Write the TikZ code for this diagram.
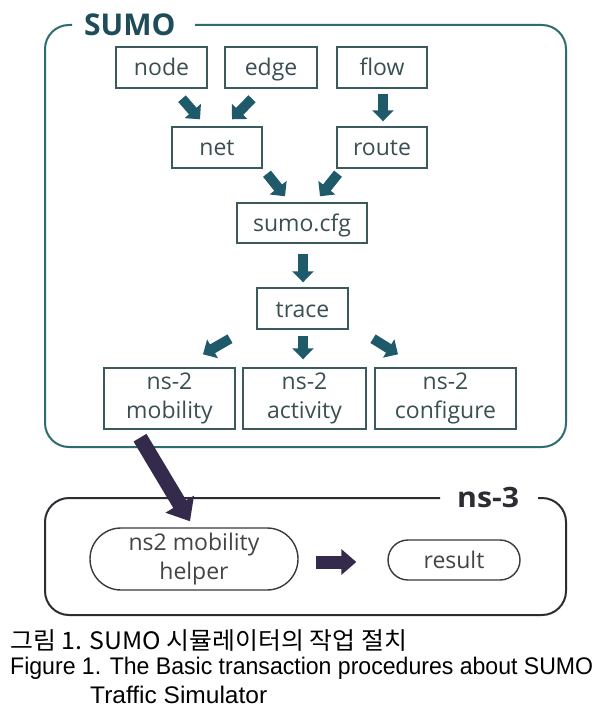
\documentclass[tikz,border=0pt]{standalone}
\usepackage{fontspec}
\usepackage{graphicx}
\usetikzlibrary{arrows.meta}
\newfontfamily\diagfam{Open Sans}
\newfontfamily\capfam{Liberation Sans}
\newfontfamily\kofam{Noto Sans CJK KR}
\newcommand\diagf{\diagfam\fontsize{23}{29}\selectfont}
\definecolor{arrc}{HTML}{1F5A6B}
\definecolor{sumoc}{HTML}{2E6C70}
\definecolor{titc}{HTML}{1E4D59}
\definecolor{boxc}{HTML}{3A5A5E}
\definecolor{txtc}{HTML}{3B4F53}
\definecolor{nsc}{HTML}{2C2C33}
\definecolor{purp}{HTML}{342A4C}
\definecolor{pillc}{HTML}{3A3A3A}
\definecolor{pilltxt}{HTML}{444444}
\tikzset{
  sbox/.style={draw=boxc, line width=1.4pt, minimum height=41pt, inner sep=0pt, text=txtc, font=\diagf, text height=17pt, text depth=0pt},
  sboxtwo/.style={draw=boxc, line width=1.4pt, minimum height=61pt, inner sep=0pt, text=txtc, font=\diagf, align=center},
  pill/.style={draw=pillc, line width=1.4pt, inner sep=0pt, text=pilltxt, font=\diagf, align=center},
  tarrow/.style={line width=10pt, draw=arrc, -{Triangle[width=21pt,length=11pt]}},
  parrow/.style={line width=15pt, draw=purp, -{Triangle[width=32pt,length=20pt]}},
  hparrow/.style={line width=13pt, draw=purp, -{Triangle[width=25pt,length=15pt]}},
  frame/.style={line width=2pt, rounded corners=24pt}
}
\begin{document}
\begin{tikzpicture}[x=1pt,y=-1pt]
\useasboundingbox (0,0) rectangle (613,722);
\fill[white] (0,0) rectangle (613,722);

% SUMO frame
\draw[frame, draw=sumoc] (72,25) -- (45,25) -- (45,447) -- (566,447) -- (566,25) -- (195,25);
\node[anchor=base west, inner sep=0pt, text=titc, font=\diagfam\bfseries\fontsize{30}{30}\selectfont] (sumot) at (84,36) {SUMO};

% ns-3 frame
\draw[frame, draw=nsc] (440,498) -- (45,498) -- (45,615) -- (566,615) -- (566,498) -- (538,498);
\node[anchor=base west, inner sep=0pt, text=nsc, font=\diagfam\bfseries\fontsize{28}{28}\selectfont] (nst) at (457,507) {\scalebox{1.08}[1]{ns-3}};

% SUMO nodes
\node[sbox, minimum width=91pt] (node) at (161.5,67.5) {node};
\node[sbox, minimum width=92pt] (edge) at (271,67.5) {edge};
\node[sbox, minimum width=90pt] (flow) at (382,67.5) {flow};
\node[sbox, minimum width=90pt] (net) at (217,147.5) {net};
\node[sbox, minimum width=90pt] (route) at (382,147.5) {route};
\node[sbox, minimum width=130pt, minimum height=40pt] (cfg) at (302,223) {sumo.cfg};
\node[sbox, minimum width=91pt] (trace) at (302.5,308.5) {trace};
\node[sboxtwo, minimum width=131pt] (mob) at (169.5,398.5) {ns-2\\mobility};
\node[sboxtwo, minimum width=123pt] (act) at (304.5,398.5) {ns-2\\activity};
\node[sboxtwo, minimum width=141pt] (conf) at (445.5,398.5) {ns-2\\configure};

% ns-3 nodes
\node[pill, minimum width=208pt, minimum height=62pt, rounded corners=31pt] (helper) at (194,559) {ns2 mobility\\helper};
\node[pill, minimum width=132pt, minimum height=40pt, rounded corners=20pt, text height=17pt, text depth=0pt] (result) at (454,560) {result};

% teal arrows
\draw[tarrow] ([shift={(20.5,10)}]node.south) -- ([shift={(-17,-7)}]net.north);
\draw[tarrow] ([shift={(-19,10)}]edge.south) -- ([shift={(15,-7)}]net.north);
\draw[tarrow] ([shift={(1,5)}]flow.south) -- ([shift={(1,-5)}]route.north);
\draw[tarrow] ([shift={(50,5)}]net.south) -- ([shift={(-17,-6)}]cfg.north);
\draw[tarrow] ([shift={(-44,5)}]route.south) -- ([shift={(18,-6)}]cfg.north);
\draw[tarrow] ([shift={(1,10)}]cfg.south) -- ([shift={(0.5,-5)}]trace.north);
\draw[tarrow] ([shift={(-72.5,9)}]trace.south) -- ([shift={(33.5,-13)}]mob.north);
\draw[tarrow] ([shift={(0.5,6)}]trace.south) -- ([shift={(-1.5,-8)}]act.north);
\draw[tarrow] ([shift={(70.5,9)}]trace.south) -- ([shift={(-47.5,-13)}]conf.north);

% purple arrows
\draw[parrow] ([shift={(-29.5,8)}]mob.south) -- ([shift={(-4,-6)}]helper.north);
\draw[hparrow] ([shift={(17,3)}]helper.east) -- ([shift={(-31,2)}]result.west);

% caption
\node[anchor=base west, inner sep=0pt] (ko) at (10,649) {\resizebox{397pt}{\height}{\kofam\fontsize{24}{28}\selectfont 그림 1. SUMO 시뮬레이터의 작업 절치}};
\node[anchor=base west, inner sep=0pt] (en1) at (10,674) {\resizebox{583pt}{\height}{\capfam\fontsize{24}{28}\selectfont Figure 1. The Basic transaction procedures about SUMO}};
\node[anchor=base west, inner sep=0pt] (en2) at (90,703) {\resizebox{177pt}{\height}{\capfam\fontsize{24}{28}\selectfont Traffic Simulator}};
\end{tikzpicture}
\end{document}
